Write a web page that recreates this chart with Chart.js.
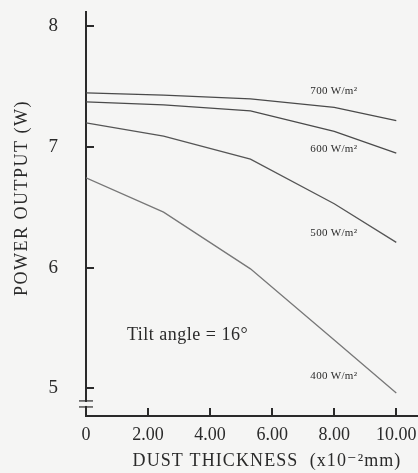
<!DOCTYPE html>
<html>
<head>
<meta charset="utf-8">
<script src="https://cdn.jsdelivr.net/npm/chart.js@4"></script>
<style>
  html, body { margin: 0; padding: 0; background: #f5f5f4; }
  #wrap { width: 418px; height: 473px; }
</style>
</head>
<body>
<div id="wrap"><canvas id="myChart" width="418" height="473"></canvas></div>
<script>
// dust thickness (x10^-2 mm) and power output (W) for each irradiance
const thickness = [0, 2.5, 5.3, 8, 10];
const power700 = [7.45, 7.43, 7.40, 7.33, 7.22];
const power600 = [7.375, 7.35, 7.30, 7.13, 6.95];
const power500 = [7.20, 7.09, 6.90, 6.53, 6.21];
const power400 = [6.745, 6.46, 5.99, 5.40, 4.96];
const seriesNames = ['700 W/m²', '600 W/m²', '500 W/m²', '400 W/m²'];

const xTicks = [0, 2, 4, 6, 8, 10];
const xTickLabels = ['0', '2.00', '4.00', '6.00', '8.00', '10.00'];
const yTicks = [5, 6, 7, 8];
const yTickLabels = ['5', '6', '7', '8'];

// where the curve names sit, in data units (left edge, middle)
const nameSpots = [[7.23, 7.46], [7.23, 6.98], [7.23, 6.29], [7.23, 5.10]];

const bg = '#f5f5f4';
const ink = '#2a2a2a';
const serif = '"Liberation Serif", "DejaVu Serif", serif';

function pts(ys) {
  return thickness.map((x, i) => ({ x: x, y: ys[i] }));
}

const extras = {
  id: 'extras',
  beforeDraw(chart) {
    const c = chart.ctx;
    c.save();
    c.fillStyle = bg;
    c.fillRect(0, 0, chart.width, chart.height);
    c.restore();
  },
  afterDraw(chart) {
    const c = chart.ctx;
    const xs = chart.scales.x, ys = chart.scales.y;
    const area = chart.chartArea;
    c.save();
    c.strokeStyle = ink;
    c.lineWidth = 2;
    // tick marks pointing inward
    yTicks.forEach(v => {
      const py = Math.round(ys.getPixelForValue(v));
      c.beginPath(); c.moveTo(area.left, py); c.lineTo(area.left + 8, py); c.stroke();
    });
    xTicks.forEach(v => {
      if (v === 0) return;
      const px = Math.round(xs.getPixelForValue(v));
      c.beginPath(); c.moveTo(px, area.bottom); c.lineTo(px, area.bottom - 8); c.stroke();
    });
    // axis break
    const b1 = ys.getPixelForValue(4.895), b2 = ys.getPixelForValue(4.845);
    c.fillStyle = bg;
    c.fillRect(area.left - 3, b1 + 1, 6, b2 - b1 - 2);
    c.lineWidth = 1.2;
    c.beginPath(); c.moveTo(area.left - 7, b1); c.lineTo(area.left + 7, b1); c.stroke();
    c.beginPath(); c.moveTo(area.left - 7, b2); c.lineTo(area.left + 7, b2); c.stroke();

    // curve names
    c.fillStyle = ink;
    c.textBaseline = 'middle';
    c.textAlign = 'left';
    c.font = '11px ' + serif;
    c.letterSpacing = '0.3px';
    seriesNames.forEach((n, i) => {
      c.fillText(n, xs.getPixelForValue(nameSpots[i][0]), ys.getPixelForValue(nameSpots[i][1]));
    });
    c.font = '18px ' + serif;
    c.letterSpacing = '0.5px';
    c.fillText('Tilt angle = 16°', xs.getPixelForValue(1.32), ys.getPixelForValue(5.44));

    // axis titles
    c.textAlign = 'center';
    c.font = '18px ' + serif;
    c.letterSpacing = '1.1px';
    c.fillText('DUST THICKNESS  (x10\u207B\u00B2mm)', 267, 461);
    c.translate(22, 198);
    c.rotate(-Math.PI / 2);
    c.font = '18px ' + serif;
    c.letterSpacing = '1.5px';
    c.fillText('POWER OUTPUT (W)', 0, 0);
    c.restore();
  }
};

const line = (data, color) => ({
  data: pts(data),
  borderColor: color,
  borderWidth: 1.3,
  pointRadius: 0,
  tension: 0,
  fill: false
});

new Chart(document.querySelector('#myChart'), {
  type: 'line',
  data: {
    datasets: [
      line(power700, '#4a4a4a'),
      line(power600, '#4a4a4a'),
      line(power500, '#555555'),
      line(power400, '#777777')
    ]
  },
  options: {
    responsive: false,
    animation: false,
    layout: { padding: { top: 12, right: 0, left: 0, bottom: 0 } },
    plugins: { legend: { display: false }, tooltip: { enabled: false } },
    scales: {
      x: {
        type: 'linear',
        min: 0,
        max: 10.7,
        afterFit: s => {
          s.height = 57;
          s.paddingLeft = 0; s.paddingRight = 0;
        },
        afterBuildTicks: s => { s.ticks = xTicks.map(v => ({ value: v })); },
        grid: { display: false, drawTicks: false },
        border: { display: true, color: ink, width: 2 },
        ticks: {
          padding: 8,
          color: ink,
          font: { family: serif, size: 18 },
          maxRotation: 0,
          autoSkip: false,
          callback: v => xTickLabels[xTicks.indexOf(v)]
        }
      },
      y: {
        min: 4.77,
        max: 8.12,
        afterFit: s => {
          s.width = 86;
          s.paddingTop = 0; s.paddingBottom = 0;
        },
        afterBuildTicks: s => { s.ticks = yTicks.map(v => ({ value: v })); },
        grid: { display: false, drawTicks: false },
        border: { display: true, color: ink, width: 2 },
        ticks: {
          padding: 28,
          color: ink,
          font: { family: serif, size: 19 },
          callback: v => yTickLabels[yTicks.indexOf(v)]
        }
      }
    }
  },
  plugins: [extras]
});
</script>
</body>
</html>
